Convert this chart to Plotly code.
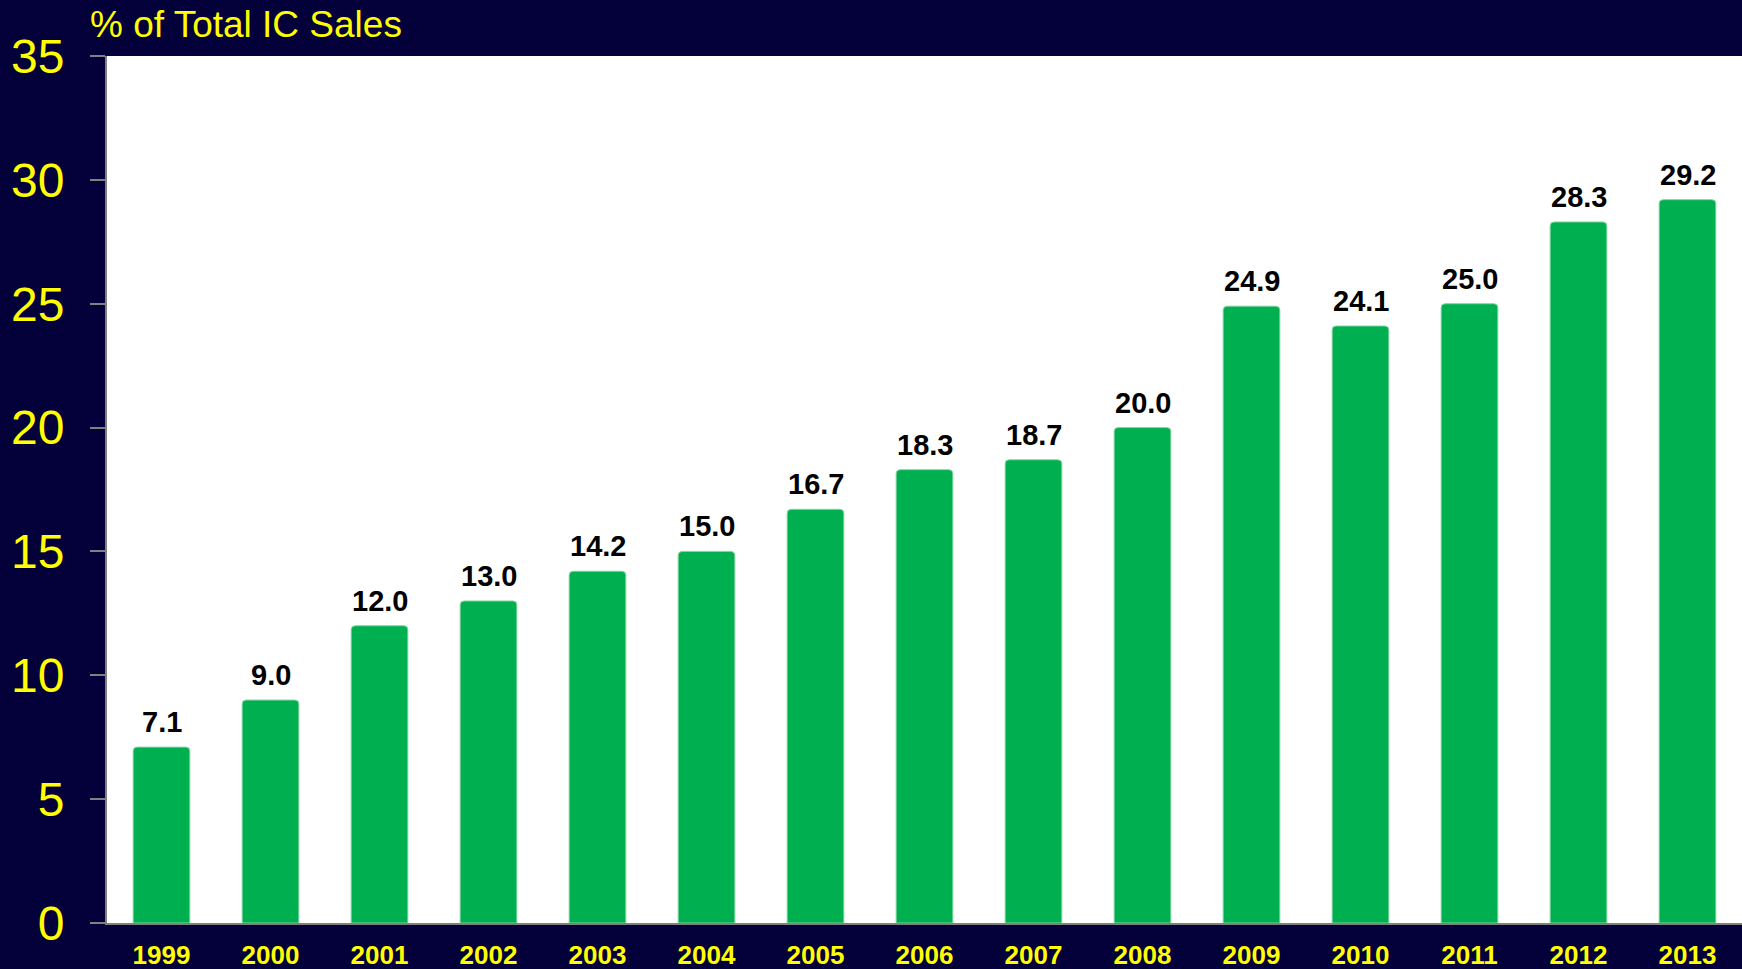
import plotly.graph_objects as go

years = ["1999", "2000", "2001", "2002", "2003", "2004", "2005", "2006",
         "2007", "2008", "2009", "2010", "2011", "2012", "2013"]
share = [7.1, 9.0, 12.0, 13.0, 14.2, 15.0, 16.7, 18.3, 18.7, 20.0,
         24.9, 24.1, 25.0, 28.3, 29.2]
labels = [f"{v:.1f}" for v in share]
y_ticks = [0, 5, 10, 15, 20, 25, 30, 35]

NAVY = "#04003A"
YELLOW = "#FFFF00"
GREEN = "#00B050"
FONT = "Arial, Liberation Sans"

fig = go.Figure()
fig.add_trace(go.Bar(
    x=years, y=share,
    marker=dict(color=GREEN, line=dict(color="#7FD6A2", width=1), cornerradius=4),
    hoverinfo="skip",
))

annotations = [dict(
    text="% of Total IC Sales", xref="paper", yref="paper",
    x=-19 / 1635, y=1 + 31 / 867, xanchor="left", yanchor="middle",
    showarrow=False, font=dict(size=37, color=YELLOW, family=FONT),
)]
# category index positions on the category x axis
for i, (v, lab) in enumerate(zip(share, labels)):
    annotations.append(dict(
        x=i, y=v, xref="x", yref="y", text=lab, showarrow=False,
        xanchor="center", yanchor="bottom", yshift=7,
        font=dict(size=29, color="black", family=FONT, weight="bold"),
    ))

fig.update_layout(
    width=1742, height=969,
    margin=dict(l=107, r=0, t=56, b=46, autoexpand=False),
    paper_bgcolor=NAVY, plot_bgcolor="white",
    bargap=0.48, showlegend=False,
    font=dict(family=FONT),
    annotations=annotations,
)
fig.update_xaxes(
    type="category", range=[-0.5, len(years) - 0.5], automargin=False,
    showline=True, linecolor="#808080", linewidth=2, ticks="",
    tickfont=dict(size=26, color=YELLOW, weight="bold"),
    ticklabelstandoff=8, showgrid=False,
)
fig.update_yaxes(
    range=[0, 35], tickvals=y_ticks, automargin=False,
    showline=True, linecolor="#808080", linewidth=2,
    ticks="outside", ticklen=15, tickcolor="#808080", tickwidth=2,
    tickfont=dict(size=48, color=YELLOW), ticklabelstandoff=16,
    showgrid=False, zeroline=False,
)

fig.write_html("out.html", config={"displayModeBar": False},
               post_script="document.body.style.margin='0';document.body.style.overflow='hidden';")
